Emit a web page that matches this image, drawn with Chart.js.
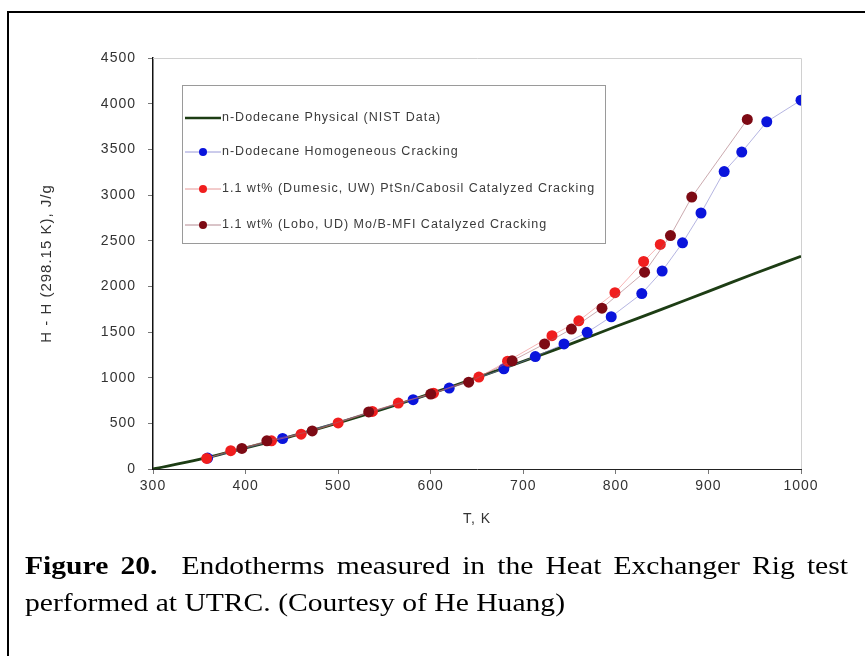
<!DOCTYPE html>
<html>
<head>
<meta charset="utf-8">
<script src="https://cdn.jsdelivr.net/npm/chart.js@4.4.1/dist/chart.umd.min.js"></script>
<style>
  html, body { margin: 0; padding: 0; background: #fff; width: 865px; height: 656px; overflow: hidden; }
  #frame { position: absolute; left: 7px; top: 11px; width: 900px; height: 700px; border: 2px solid #000; box-sizing: border-box; }
  #wrap { position: absolute; left: 0; top: 0; width: 865px; height: 530px; }
  #cap { position: absolute; left: 0; top: 530px; }
</style>
</head>
<body>
<div id="frame"></div>
<div id="wrap"><canvas id="c" width="865" height="530"></canvas></div>
<canvas id="cap" width="865" height="126"></canvas>
<script>
// Temperature (K) and enthalpy rise H - H(298.15 K) in J/g
const nistT = [300, 350, 400, 450, 500, 550, 600, 650, 700, 750, 800, 850, 900, 950, 1000];
const nistH = [0, 105, 230, 360, 505, 660, 825, 1000, 1180, 1365, 1560, 1750, 1945, 2140, 2330];

const homogT = [359, 440, 581, 620, 679, 713, 744, 769, 795, 828, 850, 872, 892, 917, 936, 963, 1000];
const homogH = [120, 334, 759, 886, 1097, 1231, 1369, 1496, 1667, 1921, 2168, 2476, 2803, 3257, 3470, 3802, 4038];

const ptsnT = [358, 384, 428, 460, 500, 537, 565, 603, 652, 683, 731, 760, 799, 830, 848];
const ptsnH = [116, 200, 308, 381, 505, 630, 722, 830, 1006, 1180, 1460, 1623, 1931, 2272, 2459];

const moT = [396, 423, 472, 533, 600, 641, 688, 723, 752, 785, 831, 859, 882, 942];
const moH = [225, 308, 417, 625, 820, 951, 1185, 1369, 1532, 1761, 2155, 2556, 2977, 3827];

const xTicks = [300, 400, 500, 600, 700, 800, 900, 1000];
const yTicks = [0, 500, 1000, 1500, 2000, 2500, 3000, 3500, 4000, 4500];

const seriesNames = [
  'n-Dodecane Physical (NIST Data)',
  'n-Dodecane Homogeneous Cracking',
  '1.1 wt% (Dumesic, UW) PtSn/Cabosil Catalyzed Cracking',
  '1.1 wt% (Lobo, UD) Mo/B-MFI Catalyzed Cracking'
];

const captionLead = ['Figure', '20.'];
const captionLine1 = ['Endotherms', 'measured', 'in', 'the', 'Heat', 'Exchanger', 'Rig', 'test'];
const captionLine2 = 'performed at UTRC. (Courtesy of He Huang)';

const pairs = (xs, ys) => xs.map((x, i) => ({ x: x, y: ys[i] }));
const SANS = '"Liberation Sans", Arial, sans-serif';

// Slightly open letter spacing for all chart text
const spacing = {
  id: 'spacing',
  beforeDraw(chart) { chart.ctx.letterSpacing = '1px'; }
};

// Plot box outline (top/right light grey edges) and the framed legend
const boxAndLegend = {
  id: 'boxAndLegend',
  beforeDatasetsDraw(chart) {
    const { ctx, chartArea: a } = chart;
    ctx.save();
    ctx.strokeStyle = '#d0d0d0';
    ctx.lineWidth = 1;
    ctx.beginPath();
    ctx.moveTo(a.left, a.top + 0.5);
    ctx.lineTo(a.right + 0.5, a.top + 0.5);
    ctx.lineTo(a.right + 0.5, a.bottom);
    ctx.stroke();
    ctx.restore();
  },
  afterDraw(chart) {
    const { ctx } = chart;
    const x0 = 182, y0 = 85, w = 423, h = 158;
    ctx.save();
    ctx.fillStyle = '#fff';
    ctx.fillRect(x0, y0, w, h);
    ctx.strokeStyle = '#9a9a9a';
    ctx.lineWidth = 1;
    ctx.strokeRect(x0 + 0.5, y0 + 0.5, w, h);
    const rows = [118, 152, 189, 225];
    chart.data.datasets.forEach((ds, i) => {
      const y = rows[i];
      ctx.beginPath();
      ctx.strokeStyle = i === 0 ? ds.borderColor : ds.legendLine;
      ctx.lineWidth = i === 0 ? 2.5 : 1;
      ctx.moveTo(185, y);
      ctx.lineTo(221, y);
      ctx.stroke();
      if (i > 0) {
        ctx.beginPath();
        ctx.fillStyle = ds.pointBackgroundColor;
        ctx.arc(203, y, 4, 0, Math.PI * 2);
        ctx.fill();
      }
      ctx.fillStyle = '#3a3a3a';
      ctx.font = '12.5px ' + SANS;
      ctx.letterSpacing = '1px';
      ctx.textBaseline = 'middle';
      ctx.fillText(ds.label, 222, y);
    });
    ctx.restore();
  }
};

const dotted = { borderWidth: 1, showLine: true, tension: 0, pointRadius: 5.5, pointHoverRadius: 5.5, pointBorderWidth: 0 };

new Chart(document.getElementById('c'), {
  type: 'scatter',
  data: {
    datasets: [
      { label: seriesNames[0], data: pairs(nistT, nistH), showLine: true, borderColor: '#1d3d14', borderWidth: 2.8,
        pointRadius: 0, tension: 0.3, order: 4 },
      Object.assign({ label: seriesNames[1], data: pairs(homogT, homogH), borderColor: 'rgba(120,120,200,0.55)',
        legendLine: 'rgba(110,110,200,0.7)', pointBackgroundColor: '#0a14dc', backgroundColor: '#0a14dc', order: 3 }, dotted),
      Object.assign({ label: seriesNames[2], data: pairs(ptsnT, ptsnH), borderColor: 'rgba(240,120,120,0.55)',
        legendLine: 'rgba(220,110,110,0.7)', pointBackgroundColor: '#f01e1e', backgroundColor: '#f01e1e', order: 2 }, dotted),
      Object.assign({ label: seriesNames[3], data: pairs(moT, moH), borderColor: 'rgba(160,100,110,0.55)',
        legendLine: 'rgba(150,90,100,0.7)', pointBackgroundColor: '#7d0a14', backgroundColor: '#7d0a14', order: 1 }, dotted)
    ]
  },
  options: {
    responsive: false,
    animation: false,
    layout: { padding: { left: 38, right: 64, top: 58, bottom: 2 } },
    plugins: { legend: { display: false }, tooltip: { enabled: false } },
    scales: {
      x: {
        type: 'linear', min: 300, max: 1000,
        afterBuildTicks(s) { s.ticks = xTicks.map(v => ({ value: v })); },
        afterFit(s) { s.height = 530 - 469 - 2; },
        grid: { drawOnChartArea: false, drawTicks: true, tickLength: 5, color: '#777' },
        border: { display: true, color: '#222', width: 1 },
        ticks: { padding: 4, color: '#333', font: { family: SANS, size: 14 }, callback: v => String(v) },
        title: { display: true, text: 'T, K', color: '#333', padding: 0, font: { family: SANS, size: 14 } }
      },
      y: {
        type: 'linear', min: 0, max: 4500,
        afterBuildTicks(s) { s.ticks = yTicks.map(v => ({ value: v })); },
        afterFit(s) { s.width = 153 - 38; },
        grid: { drawOnChartArea: false, drawTicks: true, tickLength: 5, color: '#777' },
        border: { display: true, color: '#111', width: 1.5 },
        ticks: { padding: 12, color: '#333', font: { family: SANS, size: 14 }, callback: v => String(v) },
        title: { display: true, text: 'H - H (298.15 K), J/g', color: '#333', padding: 0, font: { family: SANS, size: 15 } }
      }
    }
  },
  plugins: [spacing, boxAndLegend]
});

// Caption: serif text, first line justified across the frame
(function () {
  const cv = document.getElementById('cap');
  const ctx = cv.getContext('2d');
  const size = 25;
  const reg = size + 'px "Liberation Serif", "Times New Roman", serif';
  const bold = 'bold ' + reg;
  const left = 25, right = 848;
  ctx.fillStyle = '#000';
  ctx.textBaseline = 'alphabetic';

  ctx.font = reg;
  const s = (565 - left) / ctx.measureText(captionLine2).width;

  // first line: bold lead words, then the body words, spread to full width
  const words = captionLead.map(t => ({ t: t, f: bold })).concat(captionLine1.map(t => ({ t: t, f: reg })));
  const widths = words.map(w => { ctx.font = w.f; return ctx.measureText(w.t).width; });
  const gapUnits = words.map((w, i) => (i === captionLead.length - 1 ? 2 : 1)).slice(0, words.length - 1);
  const units = gapUnits.reduce((a, b) => a + b, 0);
  const avail = (right - left) / s - widths.reduce((a, b) => a + b, 0);
  const perUnit = avail / units;

  ctx.save();
  ctx.translate(left, 0);
  ctx.scale(s, 1);
  let x = 0;
  words.forEach((w, i) => {
    ctx.font = w.f;
    ctx.fillText(w.t, x, 44);
    x += widths[i] + (i < gapUnits.length ? gapUnits[i] * perUnit : 0);
  });
  ctx.font = reg;
  ctx.fillText(captionLine2, 0, 81);
  ctx.restore();
})();
</script>
</body>
</html>
